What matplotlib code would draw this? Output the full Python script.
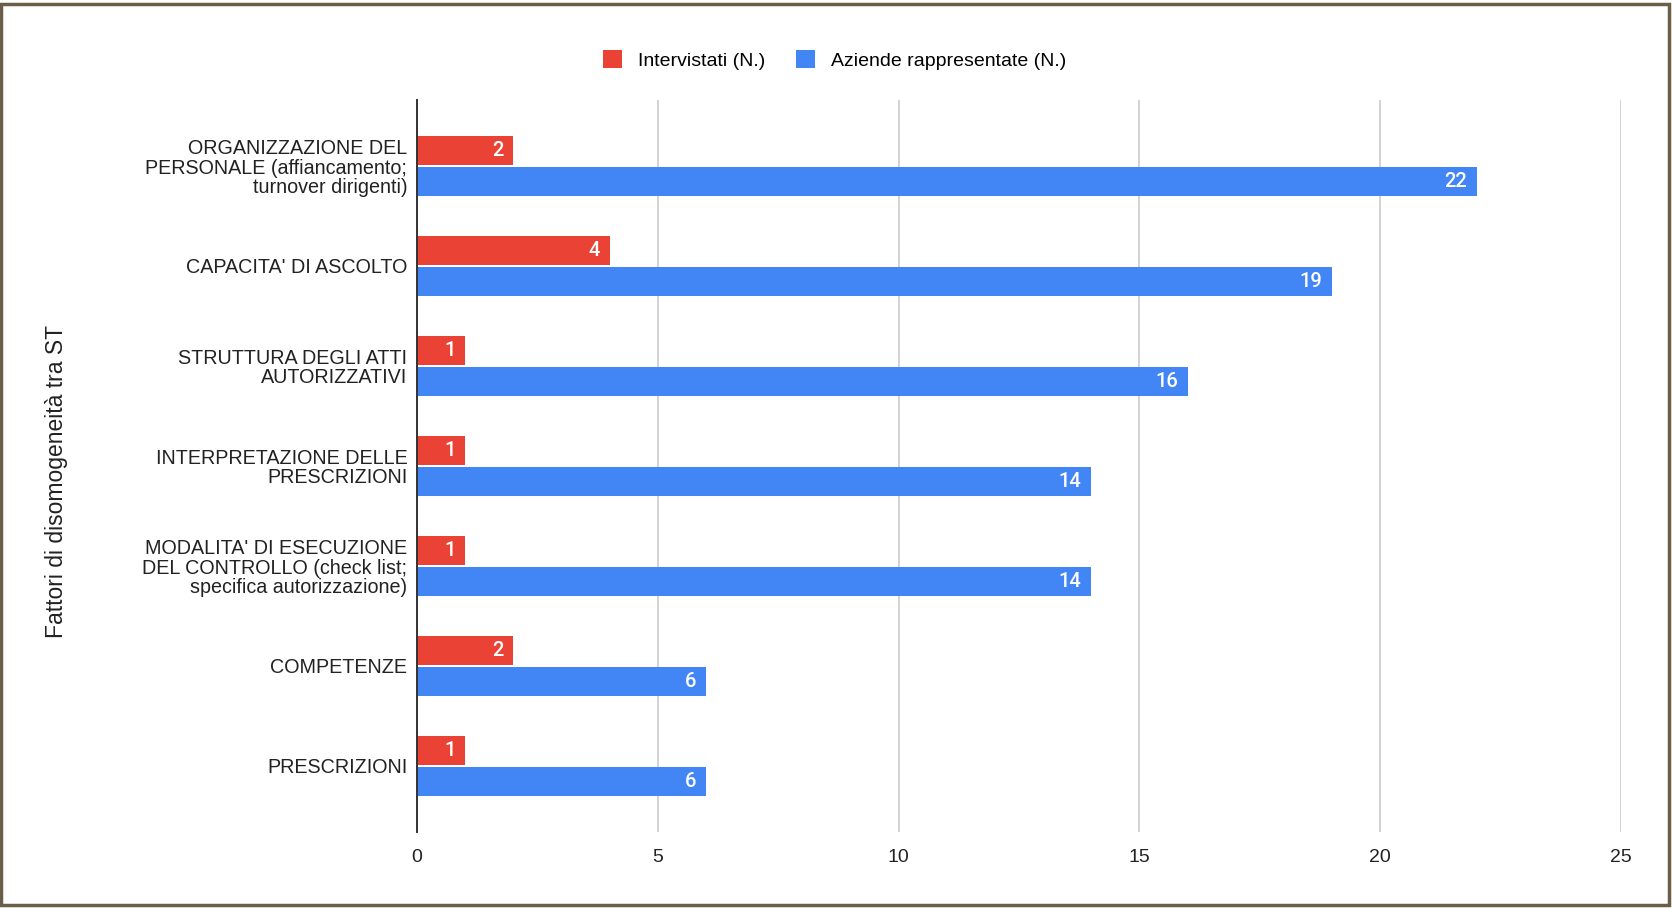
import numpy as np
import matplotlib.pyplot as plt
from matplotlib.patches import Rectangle

plt.rcParams['font.family'] = ['Liberation Sans', 'DejaVu Sans']

# data
categories = [
    "ORGANIZZAZIONE DEL\nPERSONALE (affiancamento;\nturnover dirigenti)",
    "CAPACITA' DI ASCOLTO",
    "STRUTTURA DEGLI ATTI\nAUTORIZZATIVI",
    "INTERPRETAZIONE DELLE\nPRESCRIZIONI",
    "MODALITA' DI ESECUZIONE\nDEL CONTROLLO (check list;\nspecifica autorizzazione)",
    "COMPETENZE",
    "PRESCRIZIONI",
]
intervistati = [2, 4, 1, 1, 1, 2, 1]
aziende = [22, 19, 16, 14, 14, 6, 6]
xticks = [0, 5, 10, 15, 20, 25]

red = '#EA4335'
blue = '#4285F4'

fig = plt.figure(figsize=(16.72, 9.08), dpi=100)
ax = fig.add_axes([0.2494, 0.0837, 0.7201, 0.8063])

y = np.arange(len(categories))
h = 0.29
b1 = ax.barh(y - h / 2 - 0.01, intervistati, height=h, color=red, label='Intervistati (N.)', zorder=3)
b2 = ax.barh(y + h / 2 + 0.01, aziende, height=h, color=blue, label='Aziende rappresentate (N.)', zorder=3)

for bars in (b1, b2):
    for r in bars:
        w = r.get_width()
        ax.text(w - 0.2, r.get_y() + r.get_height() / 2, str(int(w)), ha='right', va='center',
                color='white', fontsize=14.5, family='Roboto', weight='medium', zorder=4)

ax.set_ylim(len(categories) - 1 + 0.66, -0.66)
ax.set_xlim(0, 25)
ax.set_xticks(xticks)
ax.set_xticklabels([str(t) for t in xticks], fontsize=14, color='#222222')
ax.tick_params(axis='both', length=0)
ax.set_yticks(y)
ax.set_yticklabels(categories, fontsize=14.2, color='#222222', linespacing=1.03)
ax.tick_params(axis='x', pad=12)
ax.tick_params(axis='y', pad=7)
ax.grid(axis='x', color='#cccccc', linewidth=1.2, zorder=0)
for s in ['top', 'right', 'bottom']:
    ax.spines[s].set_visible(False)
ax.spines['left'].set_color('#333333')
ax.spines['left'].set_linewidth(1.4)
ax.spines['left'].set_zorder(5)

fig.text(0.034, 0.47, 'Fattori di disomogeneità tra ST', rotation=90, ha='center', va='center',
         fontsize=16.5, color='#222222')

fig.legend(handles=[b1, b2], loc='center', bbox_to_anchor=(0.499, 0.934), ncol=2, frameon=False,
           fontsize=14, handlelength=1.0, handleheight=1.0, columnspacing=1.6, handletextpad=0.8)

# outer frame
fig.patches.append(Rectangle((0.0008, 0.003), 0.9975, 0.9925, transform=fig.transFigure,
                             fill=False, edgecolor='#6b5e48', linewidth=2.5))

fig.savefig('out.png', dpi=100)
